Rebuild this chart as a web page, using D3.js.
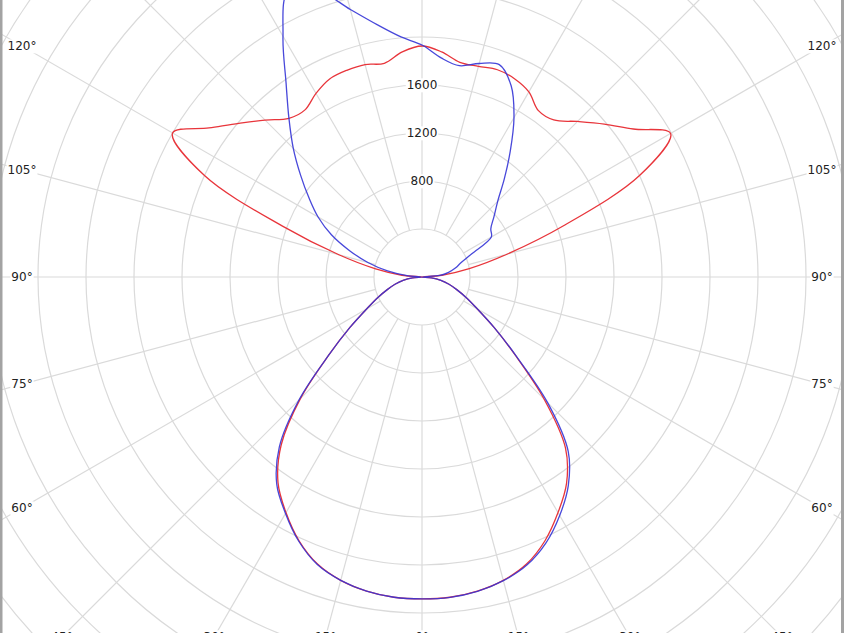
<!DOCTYPE html>
<html>
<head>
<meta charset="utf-8">
<script src="https://cdn.jsdelivr.net/npm/d3@7"></script>
<style>
  body { margin: 0; background: #fff; }
  svg { display: block; }
</style>
</head>
<body>
<div id="chart"></div>
<script>
// light distribution curve, two C-planes
// gamma angle: 0 = straight down, 90 = horizontal, 180 = straight up

var angles = [0, 5, 10, 15, 20, 25, 30, 35, 40, 45, 50, 55, 60, 65, 70, 75, 80, 85, 90,
              95, 100, 105, 110, 115, 120, 125, 130, 135, 140, 145, 150, 155, 160, 165, 170, 175, 180];

// candela, red plane (right half / left half)
var redRight = [2683, 2679, 2658, 2617, 2546, 2425, 2267, 2100, 1860, 1440, 1017, 733, 533, 408, 308, 233, 160, 80, 0,
                167, 400, 733, 1267, 2000, 2392, 2150, 1983, 1833, 1708, 1692, 1781, 1823, 1838, 1817, 1817, 1883, 1925];
var redLeft  = [2683, 2679, 2658, 2617, 2546, 2425, 2267, 2092, 1825, 1433, 1017, 733, 533, 408, 308, 233, 160, 80, 0,
                167, 392, 717, 1233, 2000, 2400, 2167, 1992, 1850, 1725, 1700, 1767, 1821, 1833, 1833, 1808, 1883, 1925];

// candela, blue plane (right half / left half)
var blueRight = [2683, 2680, 2660, 2620, 2555, 2445, 2295, 2125, 1895, 1480, 1025, 735, 533, 408, 308, 233, 160, 80, 0,
                 150, 225, 288, 345, 458, 667, 700, 783, 892, 1067, 1283, 1533, 1758, 1883, 1842, 1788, 1833, 1933];
var blueLeft  = [2683, 2679, 2658, 2617, 2550, 2430, 2275, 2110, 1850, 1450, 1017, 733, 533, 408, 308, 233, 160, 80, 0,
                 125, 292, 467, 642, 833, 1000, 1150, 1321, 1517, 1725, 1975, 2317, 2633, 2542, 2308, 2133, 2008, 1933];

var ringValues = [400, 800, 1200, 1600, 2000, 2400, 2800, 3200, 3600, 4000, 4400, 4800];
var ringLabels = [800, 1200, 1600];
var spokeAngles = [0, 15, 30, 45, 60, 75, 90, 105, 120, 135, 150, 165, 180,
                   195, 210, 225, 240, 255, 270, 285, 300, 315, 330, 345];
var angleLabels = [0, 15, 30, 45, 60, 75, 90, 105, 120, 135, 150, 165, 180];

var width = 844, height = 633,
    cx = 422, cy = 277;

var rad = Math.PI / 180;

var r = d3.scaleLinear()
  .domain([0, 1600])
  .range([0, 192]);

var svg = d3.select("#chart").append("svg")
  .attr("width", width)
  .attr("height", height);

svg.append("rect")
  .attr("width", width)
  .attr("height", height)
  .style("fill", "#fff");

var g = svg.append("g")
  .attr("transform", "translate(" + cx + "," + cy + ")");

// grid circles
g.selectAll(".ring")
  .data(ringValues)
  .enter().append("circle")
    .attr("class", "ring")
    .attr("r", d => r(d))
    .style("fill", "none")
    .attr("stroke", "#dadada")
    .attr("stroke-width", 1.2);

// spokes start at the first ring
g.selectAll(".spoke")
  .data(spokeAngles)
  .enter().append("line")
    .attr("class", "spoke")
    .attr("x1", d => r(400) * Math.sin(d * rad))
    .attr("y1", d => r(400) * Math.cos(d * rad))
    .attr("x2", d => r(5200) * Math.sin(d * rad))
    .attr("y2", d => r(5200) * Math.cos(d * rad))
    .attr("stroke", "#dadada")
    .attr("stroke-width", 1.2);

// closed outline: right half bottom->top, then left half top->bottom
function outline(right, left) {
  var pts = angles.map((a, i) => [Math.PI - a * rad, r(right[i])]);
  for (var i = angles.length - 2; i > 0; i--) {
    pts.push([Math.PI + angles[i] * rad, r(left[i])]);
  }
  return pts;
}

var line = d3.lineRadial()
  .curve(d3.curveCatmullRomClosed.alpha(0.5));

g.append("path")
  .attr("d", line(outline(redRight, redLeft)))
  .style("fill", "none")
  .attr("stroke", "#e8353b")
  .attr("stroke-width", 1.3);

g.append("path")
  .attr("d", line(outline(blueRight, blueLeft)))
  .style("fill", "none")
  .attr("stroke", "#3434d6")
  .attr("stroke-opacity", 0.9)
  .attr("stroke-width", 1.3);

// text with a white box behind it
function label(x, y, txt) {
  var t = g.append("text")
    .attr("x", x)
    .attr("y", y)
    .attr("dy", "0.36em")
    .style("text-anchor", "middle")
    .style("font-family", "'DejaVu Sans', Verdana, sans-serif")
    .style("font-size", "12px")
    .style("fill", "#222")
    .text(txt);
  var b = t.node().getBBox();
  g.insert("rect", function() { return t.node(); })
    .attr("x", b.x - 1)
    .attr("y", b.y)
    .attr("width", b.width + 2)
    .attr("height", b.height)
    .style("fill", "#fff");
}

ringLabels.forEach(v => label(0, -r(v), v));

// angle labels sit where the spokes meet the frame
var halfW = 400, halfH = 360;
angleLabels.forEach(function(a) {
  var s = Math.sin(a * rad), c = Math.cos(a * rad);
  var t = Math.min(halfW / Math.abs(s), halfH / Math.abs(c));
  var sides = (a === 0 || a === 180) ? [1] : [-1, 1];
  sides.forEach(function(side) {
    label(side * t * s, t * c, a + "\u00b0");
  });
});

// frame edges
svg.append("rect")
  .attr("x", 0).attr("y", 0)
  .attr("width", 2.5).attr("height", height)
  .style("fill", "#a3a3a3");
svg.append("rect")
  .attr("x", 841).attr("y", 0)
  .attr("width", 3).attr("height", height)
  .style("fill", "#a3a3a3");
</script>
</body>
</html>
